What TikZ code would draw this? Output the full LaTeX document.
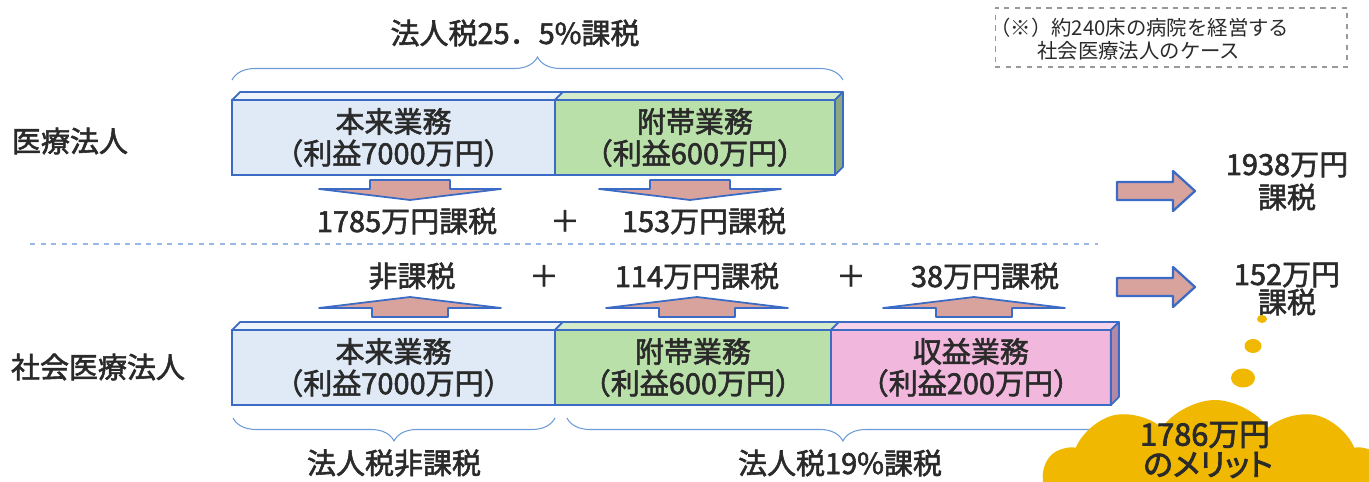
\documentclass[tikz,border=0pt]{standalone}
\usepackage{fontspec}
\setmainfont{Noto Sans CJK JP}[FakeBold=2]
\newfontfamily\notefont{Noto Sans CJK JP}
\newfontfamily\cloudfont{Noto Sans CJK JP}[FakeBold=2.5,RawFeature=+palt]
\usetikzlibrary{positioning,shapes.symbols,decorations.pathreplacing}

\definecolor{boxblue}{HTML}{3B6BC4}
\definecolor{honfill}{HTML}{DFEAF6}
\definecolor{futfill}{HTML}{B9E0A9}
\definecolor{shufill}{HTML}{F2B7DC}
\definecolor{taxfill}{HTML}{D9A39D}
\definecolor{textgray}{HTML}{2A2A2A}
\definecolor{bracebl}{HTML}{6D9BD8}
\definecolor{meritgold}{HTML}{F0B800}

\tikzset{
  bizbox/.style={draw=boxblue, line width=1.2pt, outer sep=0pt, inner sep=0pt,
    minimum height=1.5cm, align=center, text=textgray,
    font=\fontsize{16.5}{18}\selectfont},
  face/.style={draw=boxblue, line width=1pt, line join=round},
  taxarrow/.style={draw=boxblue, fill=taxfill, line width=1pt, line join=round},
  plaintext/.style={text=textgray, inner sep=0pt, font=\fontsize{16.5}{18}\selectfont},
  notetext/.style={text=textgray, inner sep=0pt, font=\notefont\fontsize{11.6}{14}\selectfont},
  bracel/.style={draw=bracebl, line width=0.6pt, decorate, decoration={brace, amplitude=0.46cm}},
  sepline/.style={draw=bracebl!70, dashed, line width=0.7pt},
  taxdown/.pic={\draw[taxarrow] (-40,-9) -- (40,-9) -- (40,0) -- (91,0) -- (0,11) -- (-91,0) -- (-40,0) -- cycle;},
  taxup/.pic={\draw[taxarrow] (-38,9) -- (38,9) -- (38,0) -- (91,0) -- (0,-11) -- (-91,0) -- (-38,0) -- cycle;},
  sumarrow/.pic={\draw[taxarrow, line width=1.3pt] (0,-9) -- (56,-9) -- (56,-20) -- (78,0) -- (56,20) -- (56,9) -- (0,9) -- cycle;}
}

\begin{document}
\begin{tikzpicture}[x=0.02cm, y=-0.02cm]
\useasboundingbox (0,0) rectangle (1369,482);

% note
\node[draw=gray!80, dashed, line width=0.6pt, minimum width=7.04cm, minimum height=1.18cm] (noteframe) at (1171,37.5) {};
\node[notetext, anchor=west] (note1) at (990,28) {（※）約240床の病院を経営する};
\node[notetext, anchor=west] (note2) at (1037,51) {社会医療法人のケース};

% names
\node[plaintext] (iryo) at (70,141) {医療法人};
\node[plaintext] (shakai) at (98,367) {社会医療法人};

% first row
\node[bizbox, fill=honfill, minimum width=6.46cm] (hon1) at (393.5,137.5) {本来業務\\（利益7000万円）};
\node[bizbox, fill=futfill, minimum width=5.6cm, right=0pt of hon1] (fut1) {附帯業務\\（利益600万円）};
\draw[face, fill=honfill!50!white] (hon1.north west) -- ++(8,-8) -- ([shift={(8,-8)}]hon1.north east) -- (hon1.north east) -- cycle;
\draw[face, fill=futfill!60!white] (fut1.north west) -- ++(8,-8) -- ([shift={(8,-8)}]fut1.north east) -- (fut1.north east) -- cycle;
\draw[face, fill=futfill!75!black] (fut1.north east) -- ++(8,-8) -- ([shift={(8,-8)}]fut1.south east) -- (fut1.south east) -- cycle;

\coordinate (brT1) at ([shift={(0,-20)}]hon1.north west);
\coordinate (brT2) at ([shift={(8,-20)}]fut1.north east);
\draw[bracel] (brT1) -- (brT2);
\node[plaintext] (toptax) at (515,33) {法人税25．5\%課税};

\path (410,189) pic {taxdown};
\path (690,189) pic {taxdown};
\node[plaintext] (tax1a) at (407,221) {1785万円課税};
\node[plaintext] (plus1) at (565,221) {＋};
\node[plaintext] (tax1b) at (704,221) {153万円課税};

\path (1117,191) pic {sumarrow};
\node[plaintext] (sum1a) at (1287,165) {1938万円};
\node[plaintext] (sum1b) at (1287,197) {課税};

% separator
\coordinate (sepL) at (30,244);
\coordinate (sepR) at (1098,244);
\draw[sepline] (sepL) -- (sepR);

% second row
\node[plaintext] (tax2a) at (412,276) {非課税};
\node[plaintext] (plus2) at (544,276) {＋};
\node[plaintext] (tax2b) at (697,276) {114万円課税};
\node[plaintext] (plus3) at (851,276) {＋};
\node[plaintext] (tax2c) at (985,276) {38万円課税};

\path (410,308) pic {taxup};
\path (697,308) pic {taxup};
\path (974,308) pic {taxup};

\node[bizbox, fill=honfill, minimum width=6.46cm] (hon2) at (393.5,367.5) {本来業務\\（利益7000万円）};
\node[bizbox, fill=futfill, minimum width=5.52cm, right=0pt of hon2] (fut2) {附帯業務\\（利益600万円）};
\node[bizbox, fill=shufill, minimum width=5.6cm, right=0pt of fut2] (shu2) {収益業務\\（利益200万円）};
\draw[face, fill=honfill!50!white] (hon2.north west) -- ++(8,-8) -- ([shift={(8,-8)}]hon2.north east) -- (hon2.north east) -- cycle;
\draw[face, fill=futfill!60!white] (fut2.north west) -- ++(8,-8) -- ([shift={(8,-8)}]fut2.north east) -- (fut2.north east) -- cycle;
\draw[face, fill=shufill!60!white] (shu2.north west) -- ++(8,-8) -- ([shift={(8,-8)}]shu2.north east) -- (shu2.north east) -- cycle;
\draw[face, fill=shufill!75!black] (shu2.north east) -- ++(8,-8) -- ([shift={(8,-8)}]shu2.south east) -- (shu2.south east) -- cycle;

\coordinate (brL1) at ([shift={(0,13)}]hon2.south east);
\coordinate (brL2) at ([shift={(1,13)}]hon2.south west);
\draw[bracel] (brL1) -- (brL2);
\coordinate (brR1) at ([shift={(8,13)}]shu2.south east);
\coordinate (brR2) at ([shift={(12,13)}]fut2.south west);
\draw[bracel] (brR1) -- (brR2);
\node[plaintext] (free) at (394,463) {法人税非課税};
\node[plaintext] (rate19) at (840,463) {法人税19\%課税};

\path (1117,287) pic {sumarrow};
\node[plaintext] (sum2a) at (1287,275) {152万円};
\node[plaintext] (sum2b) at (1287,302) {課税};

% merit
\fill[meritgold] (1262,319) ellipse [x radius=0.1cm, y radius=0.08cm];
\fill[meritgold] (1253,346) ellipse [x radius=0.17cm, y radius=0.14cm];
\fill[meritgold] (1243,378) ellipse [x radius=0.24cm, y radius=0.19cm];
\begin{scope}
  \clip (0,0) rectangle (1369,482);
  \node[cloud, cloud puffs=10, cloud puff arc=110, aspect=2.4, fill=meritgold,
    minimum width=6.9cm, minimum height=3.2cm] (merit) at (1215,480) {};
\end{scope}
\node[plaintext, font=\cloudfont\fontsize{17.5}{18}\selectfont] (merit1) at (1205,435) {1786万円};
\node[plaintext, font=\cloudfont\fontsize{17.5}{18}\selectfont] (merit2) at (1208,465) {のメリット};
\end{tikzpicture}
\end{document}
